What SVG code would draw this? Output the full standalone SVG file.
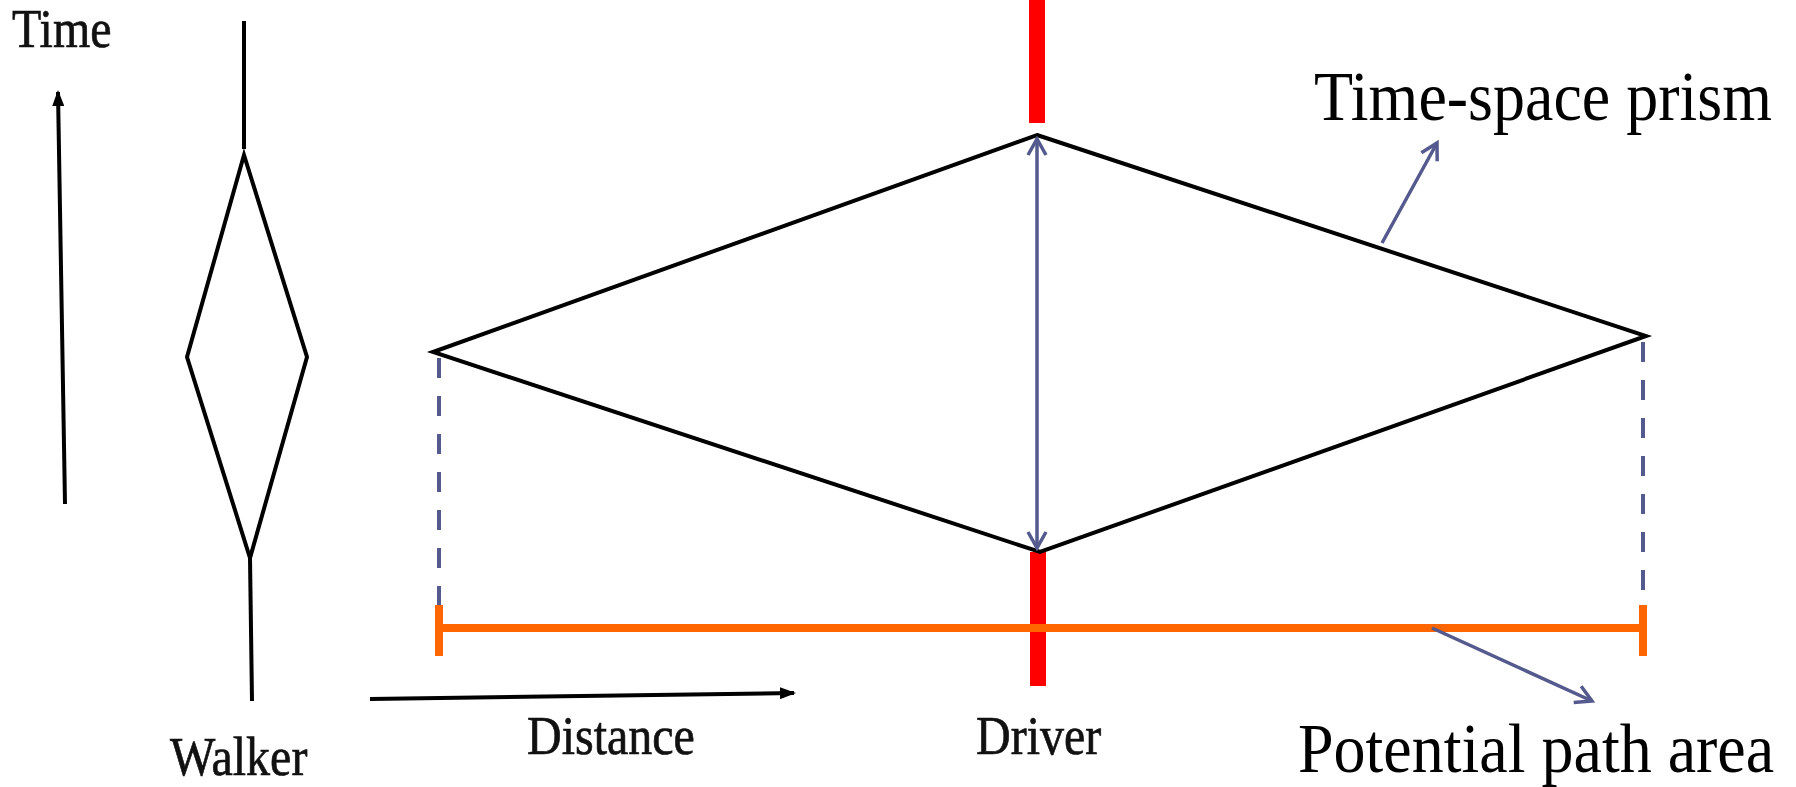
<svg xmlns="http://www.w3.org/2000/svg" width="1796" height="787" viewBox="0 0 1796 787">
<defs>
<style>
.scan{font-family:"Liberation Serif","DejaVu Serif",serif;font-size:48px;fill:#111;stroke:#111;stroke-width:0.6}
.lbl{font-family:"Liberation Serif","DejaVu Serif",serif;font-size:64px;fill:#000}
.ink{stroke:#000;stroke-width:4;fill:none;stroke-linejoin:miter}
.ptr{stroke:#555a8e;stroke-width:3.5;fill:none}
.dash{stroke:#555a8e;stroke-width:4;fill:none;stroke-dasharray:20 18}
.org{stroke:#ff6600;stroke-width:8;fill:none}
.red{stroke:#ff0000;stroke-width:16;fill:none}
</style>
<marker id="open" viewBox="0 0 24 24" refX="21" refY="12" markerWidth="24" markerHeight="24" markerUnits="userSpaceOnUse" orient="auto-start-reverse">
<path d="M5 3 L21 12 L5 21" fill="none" stroke="#555a8e" stroke-width="3.5"/>
</marker>
<marker id="blk" viewBox="0 0 16 12" refX="14" refY="6" markerWidth="16" markerHeight="12" markerUnits="userSpaceOnUse" orient="auto">
<path d="M0 0 L16 6 L0 12 Z" fill="#000"/>
</marker>
</defs>

<g id="axes">
<text class="scan" x="12" y="48" transform="translate(0,-8) scale(1,1.15)">Time</text>
<line class="ink" x1="65" y1="504" x2="58" y2="92" marker-end="url(#blk)"/>
<line class="ink" x1="370" y1="699" x2="794" y2="693" marker-end="url(#blk)"/>
<text class="scan" x="527" y="754" transform="translate(0,-113) scale(1,1.15)">Distance</text>
</g>

<g id="walker">
<polyline class="ink" points="244,21 244,149"/>
<polygon class="ink" points="244,155 307,357 250,558 187,357"/>
<polyline class="ink" points="250,558 252,701"/>
<text class="scan" x="170" y="775" transform="translate(0,-116) scale(1,1.15)">Walker</text>
</g>

<g id="driver">
<line class="red" x1="1037" y1="0" x2="1037" y2="123"/>
<line class="red" x1="1038" y1="552" x2="1038" y2="686"/>
<text class="scan" x="976" y="754" transform="translate(0,-113) scale(1,1.15)">Driver</text>
</g>

<g id="prism">
<polygon class="ink" points="1037,135 1646,336 1040,552 433,352"/>
</g>

<g id="potential-path">
<line class="dash" x1="439" y1="358" x2="439" y2="606"/>
<line class="dash" x1="1643" y1="342" x2="1643" y2="606"/>
<line class="org" x1="439" y1="628" x2="1643" y2="628"/>
<line class="org" x1="439" y1="605" x2="439" y2="656"/>
<line class="org" x1="1643" y1="605" x2="1643" y2="656"/>
</g>

<g id="labels">
<text class="lbl" x="1314" y="120" transform="translate(0,-12) scale(1,1.1)">Time-space prism</text>
<text class="lbl" x="1298" y="772" transform="translate(0,-77) scale(1,1.1)">Potential path area</text>
</g>

<g id="connectors">
<line class="ptr" x1="1037" y1="139" x2="1037" y2="548" marker-start="url(#open)" marker-end="url(#open)"/>
<line class="ptr" x1="1382" y1="243" x2="1437" y2="143" marker-end="url(#open)"/>
<line class="ptr" x1="1432" y1="628" x2="1592" y2="701" marker-end="url(#open)"/>
</g>
</svg>
